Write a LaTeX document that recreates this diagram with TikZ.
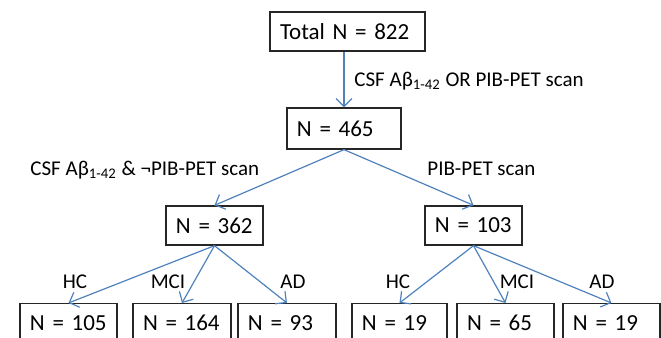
\documentclass[tikz,border=0pt]{standalone}
\usepackage{fontspec}
\setmainfont{Carlito}
\usepackage{xcolor}
\usetikzlibrary{arrows.meta,positioning}
\definecolor{flowBlue}{RGB}{79,129,189}

\begin{document}
\begin{tikzpicture}[
            x=0.5pt, y=-0.5pt,
            block/.style={rectangle, draw=black!85, line width=0.65pt, text width=#1, minimum height=19.5pt, inner xsep=5pt, align=left, font=\fontsize{11.5}{13}\selectfont},
            block/.default=38.5pt,
            lbl/.style={inner sep=0pt, font=\fontsize{10.5}{12}\selectfont},
            arrow/.style={-{Straight Barb[length=4pt,width=8pt]}, flowBlue, line width=0.6pt}
        ]
            \clip (0,0) rectangle (661,338);
            \node[block=67.5pt] (total) at (347.5,31.5) {Total~N~=~822};
            \node[block=47pt, minimum height=20.5pt] (n465) at (344,128.5) {N~=~465};
            \node[block] (n362) at (214.5,225.5) {N~=~362};
            \node[block] (n103) at (473.5,225.5) {N~=~103};
            \node[block, anchor=north] (hc1) at (68.5,303) {N~=~105};
            \node[block=39pt, anchor=north] (mci1) at (182,303) {N~=~164};
            \node[block=39pt, anchor=north] (ad1) at (287,303) {N~=~93};
            \node[block=37.5pt, anchor=north] (hc2) at (399.5,303) {N~=~19};
            \node[block, anchor=north] (mci2) at (505.5,303) {N~=~65};
            \node[block, anchor=north] (ad2) at (611.5,303) {N~=~19};
            
            \node[lbl, anchor=base west] (anyscan) at (354,86) {CSF Aβ\textsubscript{1-42} OR PIB-PET scan};
            \node[lbl, anchor=base west] (csfonly) at (30,175) {CSF Aβ\textsubscript{1-42} \& ¬PIB-PET scan};
            \node[lbl, anchor=base west] (pibscan) at (427,175) {PIB-PET scan};
            \node[lbl, anchor=base] (hclbl1) at (75,288) {HC};
            \node[lbl, anchor=base] (mcilbl1) at (168,288) {MCI};
            \node[lbl, anchor=base] (adlbl1) at (293,288) {AD};
            \node[lbl, anchor=base] (hclbl2) at (398,288) {HC};
            \node[lbl, anchor=base] (mcilbl2) at (517,288) {MCI};
            \node[lbl, anchor=base] (adlbl2) at (602,288) {AD};
            
            \draw[arrow] (total.south -| n465.north) -- (n465.north);
            \draw[arrow] (n465.south) -- (n362.north);
            \draw[arrow] (n465.south) -- (n103.north);
            \draw[arrow] (n362.south) -- (hc1.north);
            \draw[arrow] (n362.south) -- (mci1.north);
            \draw[arrow] (n362.south) -- (ad1.north);
            \draw[arrow] (n103.south) -- (hc2.north);
            \draw[arrow] (n103.south) -- (mci2.north);
            \draw[arrow] (n103.south) -- (ad2.north);
        \end{tikzpicture}
\end{document}
